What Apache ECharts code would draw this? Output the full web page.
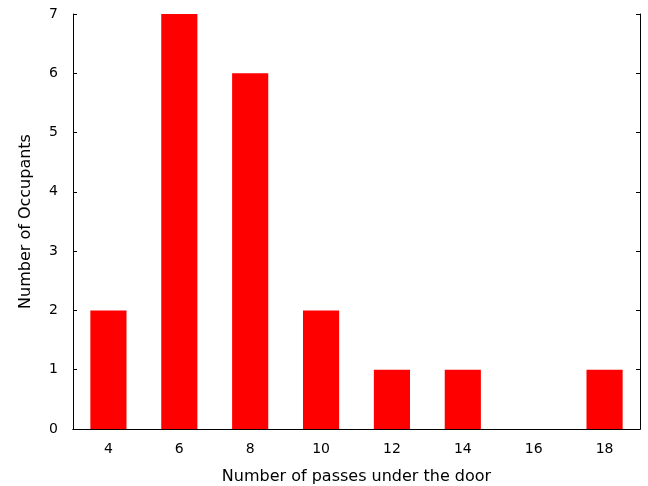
<!DOCTYPE html>
<html><head><meta charset="utf-8">
<script src="https://cdn.jsdelivr.net/npm/echarts@6/dist/echarts.min.js"></script>
<style>html,body{margin:0;padding:0;background:#fff}#c{width:648px;height:486px}</style>
</head><body><div id="c"></div>
<script>
const categories = ['4','6','8','10','12','14','16','18'];
const occupants = [2, 7, 6, 2, 1, 1, 0, 1];
const yTicks = [0,1,2,3,4,5,6,7];

const chart = echarts.init(document.getElementById('c'), null, {renderer:'canvas'});
const font = 'DejaVu Sans';
const lineStyle = {color:'#000', width:1};
chart.setOption({
  animation:false,
  backgroundColor:'#fff',
  grid:{left:73, right:8, top:14, bottom:57, containLabel:false, outerBoundsMode:'none'},
  xAxis:[{
    type:'category', data:categories, position:'bottom',
    name:'Number of passes under the door', nameLocation:'middle', nameGap:40,
    nameTextStyle:{fontFamily:font, fontSize:16, color:'#000'},
    axisLine:{lineStyle}, axisTick:{inside:true, alignWithLabel:true, length:4, lineStyle},
    axisLabel:{fontFamily:font, fontSize:14, color:'#000', margin:13},
    splitLine:{show:false}
  },{
    type:'category', data:categories, position:'top',
    axisLine:{lineStyle}, axisTick:{inside:true, alignWithLabel:true, length:4, lineStyle},
    axisLabel:{show:false}, splitLine:{show:false}
  }],
  yAxis:[{
    type:'value', min:0, max:7, interval:1, position:'left',
    name:'Number of Occupants', nameLocation:'middle', nameGap:39,
    nameTextStyle:{fontFamily:font, fontSize:16, color:'#000'},
    axisLine:{show:true, lineStyle}, axisTick:{show:true, inside:true, length:4, lineStyle},
    axisLabel:{fontFamily:font, fontSize:14, color:'#000', margin:15,
      formatter:v=>yTicks.includes(v)?String(v):''},
    splitLine:{show:false}
  },{
    type:'value', min:0, max:7, interval:1, position:'right',
    axisLine:{show:true, lineStyle}, axisTick:{show:true, inside:true, length:4, lineStyle},
    axisLabel:{show:false}, splitLine:{show:false}
  }],
  series:[{
    type:'bar', data:occupants, barWidth:'51%',
    itemStyle:{color:'#ff0000'}
  }]
});
</script></body></html>
